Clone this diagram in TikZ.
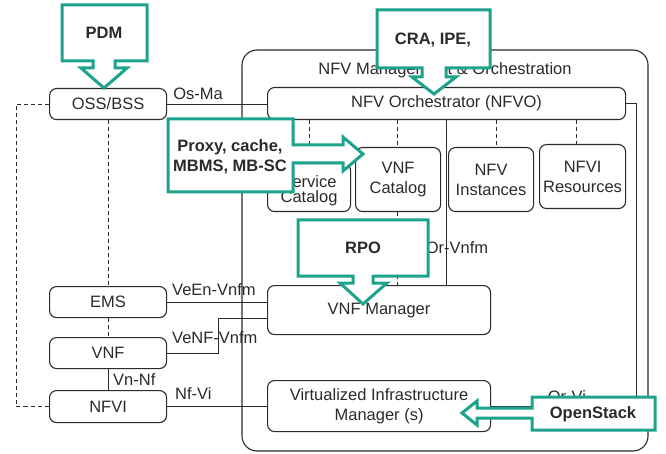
\documentclass[tikz,border=0pt]{standalone}
\usepackage{fontspec}
\setmainfont{Liberation Sans}
\usetikzlibrary{calc}
\definecolor{teal1}{HTML}{1DA38C}
\definecolor{ink}{HTML}{2A2A2A}
\tikzset{
  txt/.style={font=\fontsize{16.5}{20}\selectfont, text=ink},
  box/.style={draw=ink, line width=1.1pt, rounded corners=7pt, anchor=north west, inner sep=0pt, align=center, txt},
  lbl/.style={inner sep=0pt, txt},
  conn/.style={draw=ink, line width=1pt},
  dsh/.style={draw=ink, line width=1pt, dash pattern=on 4pt off 3pt},
  callout/.style={draw=teal1, fill=white, line width=3pt, line join=miter},
  ctxt/.style={inner sep=0pt, align=center, font=\fontsize{16.5}{20}\selectfont\bfseries, text=ink}
}
\begin{document}
\begin{tikzpicture}[x=1pt,y=-1pt]
\useasboundingbox (0,0) rectangle (666,454);
% MANO frame
\draw[draw=ink, line width=1.1pt, rounded corners=15pt] (242,50) rectangle (648,451);
\node[lbl] (title) at (445,70) {NFV Management \& Orchestration};
% boxes
\node[box, minimum width=117, minimum height=31] (oss) at (49,88) {OSS/BSS};
\node[box, minimum width=117, minimum height=31] (ems) at (49,286) {EMS};
\node[box, minimum width=117, minimum height=31] (vnf) at (49,337) {VNF};
\node[box, minimum width=117, minimum height=32] (nfvi) at (49,390) {NFVI};
\node[box, minimum width=358, minimum height=32] (nfvo) at (267,87) {NFV Orchestrator (NFVO)};
\node[box, minimum width=83, minimum height=48, text depth=0pt] (sc) at (267,163) {\raisebox{-3pt}{\shortstack{Service\\[-1pt]Catalog}}};
\node[box, minimum width=85, minimum height=64] (vc) at (355,147) {VNF\\Catalog};
\node[box, minimum width=85, minimum height=64] (ni) at (448,147) {NFV\\Instances};
\node[box, minimum width=86, minimum height=64] (nr) at (539,144) {NFVI\\Resources};
\node[box, minimum width=223, minimum height=49] (vnfm) at (267,285) {VNF Manager};
\node[box, minimum width=223, minimum height=51] (vim) at (267,380) {Virtualized Infrastructure\\Manager (s)};
% connectors
\draw[conn] (oss.east) -- (oss.east -| nfvo.west);
\node[lbl] (osma) at (198,94) {Os-Ma};
\draw[dsh] (oss.west) -- ++(-33,0) |- (nfvi.west);
\draw[dsh] (oss.south) -- (ems.north);
\draw[dsh] (ems.south) -- (vnf.north);
\draw[conn] (vnf.south) -- (nfvi.north);
\node[lbl, anchor=west] (vnnf) at (113,380) {Vn-Nf};
\draw[conn] (ems.east) -- (ems.east -| vnfm.west);
\node[lbl, anchor=west] (veen) at (172,290) {VeEn-Vnfm};
\coordinate (vm2) at ($(vnfm.south west)+(0,-17)$);
\draw[conn] (vnf.east) -- ++(51,0) |- (vm2);
\node[lbl, anchor=west] (venf) at (172,338) {VeNF-Vnfm};
\draw[conn] (nfvi.east) -- (nfvi.east -| vim.west);
\node[lbl, anchor=west] (nfvil) at (175,394) {Nf-Vi};
\draw[conn] ($(nfvo.south west)+(179,0)$) -- ($(vnfm.north west)+(179,0)$);
\node[lbl] (orvnfm) at (457,248) {Or-Vnfm};
\draw[dsh] (nfvo.south -| sc.north) -- (sc.north);
\draw[dsh] ($(nfvo.south -| vc.north)+(-1,0)$) -- ($(vc.north)+(-1,0)$);
\draw[dsh] ($(nfvo.south -| ni.north)+(5,0)$) -- ($(ni.north)+(5,0)$);
\draw[dsh] ($(nfvo.south -| nr.north)+(-6,0)$) -- ($(nr.north)+(-6,0)$);
\draw[dsh] ($(vc.south)+(-1,0)$) -- ($(vc.south |- vnfm.north)+(-1,0)$);
\draw[conn] (nfvo.east) -- ++(10,0) |- (vim.east);
\node[lbl] (orvi) at (567,397) {Or-Vi};
% callouts
\draw[callout] (62,5) -- (147,5) -- (147,61) -- (115,61) -- (115,68) -- (127,68) -- (104,88) -- (81,68) -- (93,68) -- (93,61) -- (62,61) -- cycle;
\node[ctxt] (pdm) at (104,33) {PDM};
\draw[callout] (377,10) -- (490,10) -- (490,68) -- (446,68) -- (446,77) -- (456,77) -- (434,94) -- (412,77) -- (422,77) -- (422,68) -- (377,68) -- cycle;
\node[ctxt] (cra) at (433,40) {CRA, IPE,};
\draw[callout] (168,119) -- (293,119) -- (293,145) -- (343,145) -- (343,137) -- (363,154) -- (343,171) -- (343,163) -- (293,163) -- (293,192) -- (168,192) -- cycle;
\node[ctxt] (proxy) at (230,157) {Proxy, cache,\\MBMS, MB-SC};
\draw[callout] (298,220) -- (428,220) -- (428,276) -- (373,276) -- (373,283) -- (387,283) -- (363,304) -- (340,283) -- (353,283) -- (353,276) -- (298,276) -- cycle;
\node[ctxt] (rpo) at (363,248) {RPO};
\draw[callout] (532,397) -- (655,397) -- (655,430) -- (532,430) -- (532,418) -- (477,418) -- (477,425) -- (462,413) -- (477,401) -- (477,408) -- (532,408) -- cycle;
\node[ctxt] (ostack) at (593,414) {OpenStack};
\end{tikzpicture}
\end{document}
